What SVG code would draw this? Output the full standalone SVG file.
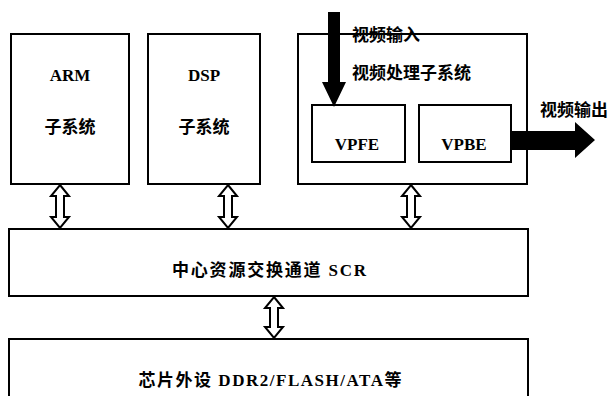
<svg xmlns="http://www.w3.org/2000/svg" width="608" height="396" viewBox="0 0 608 396">
<style>
.box{fill:#fff;stroke:#000;stroke-width:2}
.dbl{fill:#fff;stroke:#000;stroke-width:2;stroke-linejoin:miter}
.t{font-family:"Liberation Serif","Noto Sans CJK SC",serif;font-weight:bold;font-size:17px;fill:#000;text-anchor:middle;dominant-baseline:central}
.tl{font-family:"Liberation Serif","Noto Sans CJK SC",serif;font-weight:bold;font-size:17px;fill:#000;dominant-baseline:central}
</style>
<rect width="608" height="396" fill="#fff"/>
<g id="arm">
<rect class="box" x="11" y="34" width="118" height="150"/>
<text class="t" x="70" y="75">ARM</text>
<text class="t" x="70" y="127">子系统</text>
</g>
<g id="dsp">
<rect class="box" x="148" y="34" width="112" height="150"/>
<text class="t" x="204" y="75">DSP</text>
<text class="t" x="204" y="127">子系统</text>
</g>
<g id="video">
<rect class="box" x="298" y="34" width="229" height="150"/>
<text class="tl" x="352" y="73">视频处理子系统</text>
</g>
<g id="vpfe">
<rect class="box" x="312" y="105" width="93" height="57"/>
<text class="t" x="357" y="144">VPFE</text>
</g>
<g id="vpbe">
<rect class="box" x="419" y="105" width="92" height="57"/>
<text class="t" x="464" y="144">VPBE</text>
</g>
<g id="scr">
<rect class="box" x="9" y="229" width="519" height="67"/>
<text class="t" x="269" y="270" textLength="194" lengthAdjust="spacing">中心资源交换通道 SCR</text>
</g>
<g id="periph">
<rect class="box" x="9" y="339" width="519" height="80"/>
<text class="t" x="270" y="380" textLength="263" lengthAdjust="spacing">芯片外设 DDR2/FLASH/ATA等</text>
</g>
<g id="connectors">
<polygon class="dbl" points="60,185 69,196 64,196 64,217 69,217 60,228 51,217 56,217 56,196 51,196"/>
<polygon class="dbl" points="228,185 237,196 232,196 232,217 237,217 228,228 219,217 224,217 224,196 219,196"/>
<polygon class="dbl" points="411,185 420,196 415,196 415,217 420,217 411,228 402,217 407,217 407,196 402,196"/>
<polygon class="dbl" points="274,297 283,308 278,308 278,327 283,327 274,338 265,327 270,327 270,308 265,308"/>
<polygon fill="#000" points="328,12 340,12 340,82 346,82 334,107 322,82 328,82"/>
<polygon fill="#000" points="512,131 575,131 575,122 595,140 575,158 575,150 512,150"/>
<text class="tl" x="352" y="35">视频输入</text>
<text class="tl" x="540" y="110">视频输出</text>
</g>
</svg>
